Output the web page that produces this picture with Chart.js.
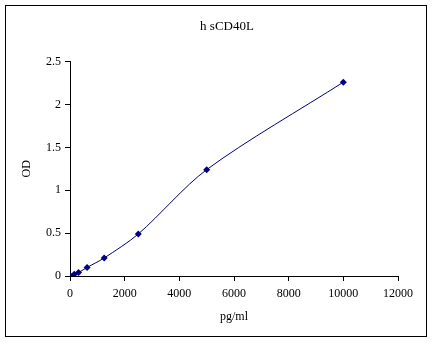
<!DOCTYPE html>
<html>
<head>
<meta charset="UTF-8">
<script src="https://cdn.jsdelivr.net/npm/chart.js"></script>
<style>
  html, body { margin: 0; padding: 0; background: #fff; }
  #wrap { width: 434px; height: 344px; position: relative; }
</style>
</head>
<body>
<div id="wrap"><canvas id="myChart"></canvas></div>
<script>
// concentration (pg/ml) and OD readings
const concentracoes = [0, 156, 312, 625, 1250, 2500, 5000, 10000];
const od = [0.005, 0.02, 0.04, 0.1, 0.21, 0.49, 1.24, 2.26];
const xTicks = [0, 2000, 4000, 6000, 8000, 10000, 12000];
const yTicks = [0, 0.5, 1, 1.5, 2, 2.5];

const fonte = { family: "'Liberation Serif', 'DejaVu Serif', serif", size: 12, weight: 'normal' };

let pontos = [];
for (let i = 0; i < concentracoes.length; i++) {
  pontos.push({ x: concentracoes[i], y: od[i] });
}

// moldura em volta da figura
const moldura = {
  id: 'moldura',
  afterDraw(chart) {
    const ctx = chart.ctx;
    ctx.save();
    ctx.strokeStyle = '#000';
    ctx.lineWidth = 1;
    ctx.strokeRect(5.5, 5.5, 421, 331);
    ctx.restore();
  }
};

new Chart(document.getElementById('myChart'), {
  type: 'scatter',
  data: {
    datasets: [{
      data: pontos,
      showLine: true,
      tension: 0.3,
      borderColor: '#000080',
      borderWidth: 1,
      backgroundColor: '#000080',
      pointStyle: 'rectRot',
      pointRadius: 3.5,
      pointBorderWidth: 0
    }]
  },
  options: {
    responsive: true,
    maintainAspectRatio: false,
    animation: false,
    layout: { padding: { left: 20, right: 0, top: 0, bottom: 20 } },
    plugins: {
      legend: { display: false },
      tooltip: { enabled: false },
      title: {
        display: true,
        text: 'h sCD40L',
        color: '#000',
        font: { family: fonte.family, size: 13, weight: 'normal' },
        padding: { top: 19, bottom: 27 }
      }
    },
    scales: {
      x: {
        type: 'linear',
        min: 0,
        max: 12000,
        afterBuildTicks(s) { s.ticks = xTicks.map(v => ({ value: v })); },
        afterFit(s) { s.height = 48; },
        ticks: { color: '#000', font: fonte, padding: 6, maxRotation: 0, callback: v => String(v) },
        grid: { drawOnChartArea: false, drawTicks: true, tickLength: 5, color: '#000' },
        border: { display: true, color: '#000' },
        title: { display: true, text: 'pg/ml', color: '#000', font: fonte, padding: { top: 4, bottom: 0 } }
      },
      y: {
        min: 0,
        max: 2.5,
        afterBuildTicks(s) { s.ticks = yTicks.map(v => ({ value: v })); },
        afterFit(s) { s.width = 50; },
        ticks: { color: '#000', font: fonte, padding: 4, callback: v => String(v) },
        grid: { drawOnChartArea: false, drawTicks: true, tickLength: 5, color: '#000' },
        border: { display: true, color: '#000' },
        title: { display: true, text: 'OD', color: '#000', font: fonte, padding: { top: 0, bottom: 0 } }
      },
      // espaco vazio a direita
      dir: {
        position: 'right',
        display: true,
        afterFit(s) { s.width = 36; },
        ticks: { display: false },
        grid: { display: false },
        border: { display: false }
      }
    }
  },
  plugins: [moldura]
});
</script>
</body>
</html>
